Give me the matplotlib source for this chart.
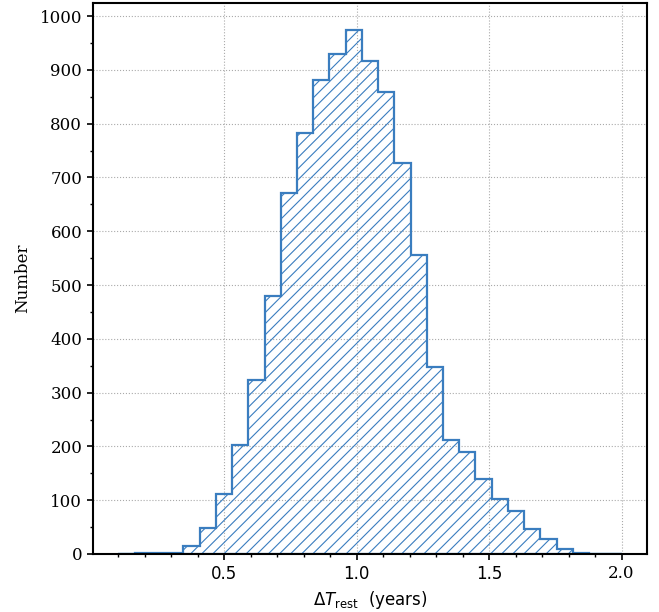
import numpy as np
import matplotlib
matplotlib.use('Agg')
import matplotlib.pyplot as plt
from matplotlib.ticker import MultipleLocator

# histogram of rest-frame time baseline, 31 bins between 0.1 and 2.0 years
bin_lo = 0.1
bin_hi = 2.0
n_bins = 31
counts = [0, 1, 2, 1, 15, 49, 111, 203, 324, 479, 672, 782, 881, 930, 975,
          917, 859, 727, 555, 348, 211, 190, 139, 102, 80, 46, 28, 9, 2, 0, 0]

edges = np.linspace(bin_lo, bin_hi, n_bins + 1)
centers = 0.5 * (edges[:-1] + edges[1:])

plt.rcParams['hatch.linewidth'] = 0.8
edge_col = '#3a7dbf'

fig = plt.figure(figsize=(6.59, 6.12), dpi=100)
ax = fig.add_axes([0.1416, 0.0948, 0.8397, 0.8998])

ax.hist(centers, bins=edges, weights=counts, histtype='stepfilled',
        facecolor='none', edgecolor=edge_col, hatch='///', linewidth=1.6)

ax.xaxis.set_major_locator(MultipleLocator(0.5))
ax.xaxis.set_minor_locator(MultipleLocator(0.1))
ax.yaxis.set_major_locator(MultipleLocator(100))
ax.yaxis.set_minor_locator(MultipleLocator(50))
ax.grid(True, which='major', linestyle=':', color='#aaaaaa', linewidth=0.8)
ax.set_axisbelow(True)

ax.tick_params(which='major', length=4.5, width=1.2, labelsize=12)
ax.tick_params(which='minor', length=2.5, width=1.0)
for s in ax.spines.values():
    s.set_linewidth(1.5)

ax.set_ylabel('Number', fontsize=12, family='DejaVu Serif', labelpad=6)
ax.set_xlabel(r'$\Delta T_{\rm rest}$  (years)', fontsize=12)

fig.canvas.draw()
for lab in ax.get_yticklabels():
    lab.set_family('DejaVu Serif')
for lab in ax.get_xticklabels():
    if lab.get_text() in ('2.0',):
        lab.set_family('DejaVu Serif')
    else:
        lab.set_family('DejaVu Sans')

fig.savefig('out.png', dpi=100)
